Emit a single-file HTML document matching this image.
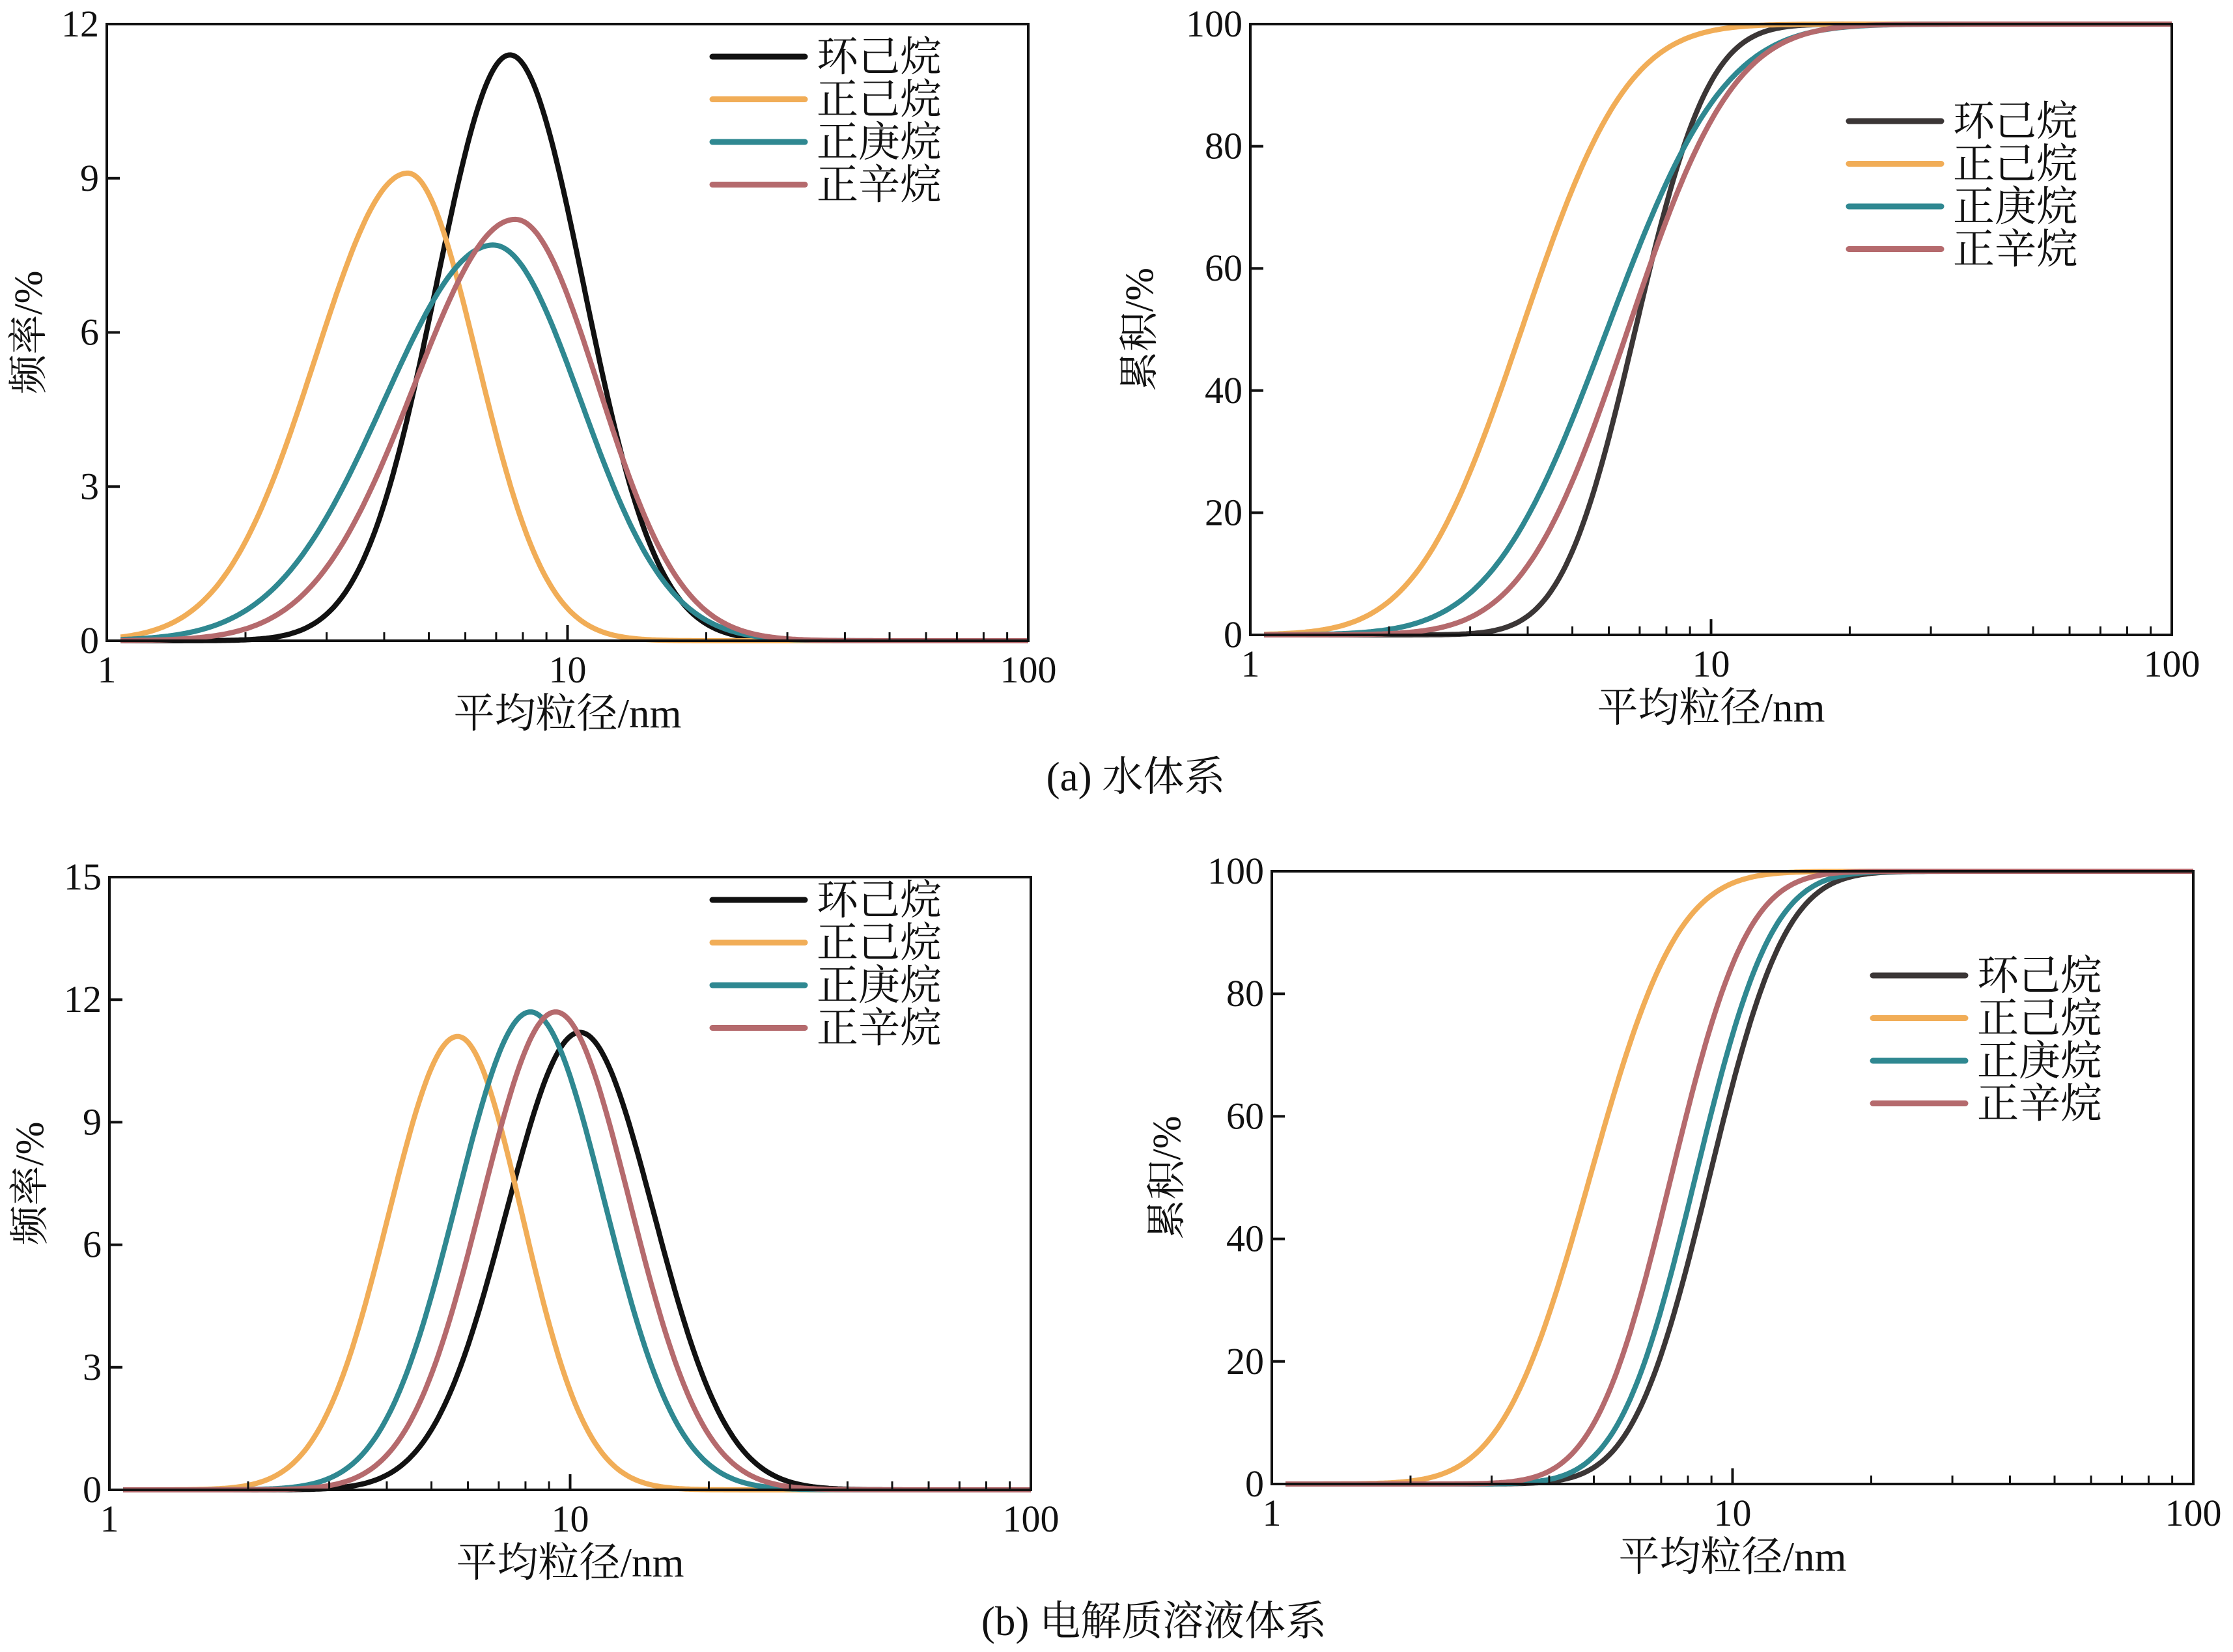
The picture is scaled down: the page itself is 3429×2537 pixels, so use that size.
<!DOCTYPE html>
<html><head><meta charset="utf-8">
<style>
html,body{margin:0;padding:0;background:#fff;}
svg{display:block;}
text{font-family:"Liberation Serif","Noto Serif CJK SC","Noto Sans CJK SC",serif;fill:#111;}
</style></head>
<body>
<svg id="fig" width="3429" height="2537" viewBox="0 0 3429 2537" xmlns="http://www.w3.org/2000/svg"></svg>
<script>
// ---- data ----
const seriesNames = ["环己烷","正己烷","正庚烷","正辛烷"];
// frequency panel (a): peak size (nm), peak value (%), left/right spread (log10 units)
const aFreqPeakSize = [7.5, 4.5, 6.9, 7.7];
const aFreqPeakValue = [11.4, 9.1, 7.7, 8.2];
const aFreqSpreadL = [0.16, 0.2, 0.237, 0.219];
const aFreqSpreadR = [0.16, 0.15, 0.19, 0.18];
// frequency panel (b)
const bFreqPeakSize = [10.5, 5.7, 8.2, 9.3];
const bFreqPeakValue = [11.2, 11.1, 11.7, 11.7];
const bFreqSpreadL = [0.16, 0.15, 0.16, 0.16];
const bFreqSpreadR = [0.16, 0.14, 0.16, 0.16];
// cumulative panels: median size (nm) and spread (log10 units)
const aCumMedian = [6.85, 3.88, 5.95, 6.6];
const aCumSpread = [0.125, 0.18, 0.2, 0.18];
const bCumMedian = [8.9, 4.9, 8.3, 7.35];
const bCumSpread = [0.13, 0.15, 0.13, 0.13];
const freqTicksA = [0,3,6,9,12];
const freqTicksB = [0,3,6,9,12,15];
const cumTicks = [0,20,40,60,80,100];
const xTicks = [1,10,100];

const colorsFreq = ["#111111","#f1ad57","#2f8891","#b56a6d"];
const colorsCum = ["#3b3636","#f1ad57","#2f8891","#b56a6d"];
const NS = "http://www.w3.org/2000/svg";
const svg = document.getElementById("fig");

function mk(tag, attrs, parent){
  const e=document.createElementNS(NS,tag);
  for(const k in attrs) e.setAttribute(k,attrs[k]);
  (parent||svg).appendChild(e); return e;
}
function erf(x){const s=x<0?-1:1;x=Math.abs(x);const t=1/(1+0.3275911*x);
  const y=1-(((((1.061405429*t-1.453152027)*t)+1.421413741)*t-0.284496736)*t+0.254829592)*t*Math.exp(-x*x);return s*y;}

function panel(cfg){
  const g=mk("g",{});
  
  
  const {x0,x1,y0,y1,ymax}=cfg;
  const X=v=>x0+(Math.log10(v))/2*(x1-x0);
  const Y=v=>y1-(v/ymax)*(y1-y0);
  for(let i=0;i<4;i++){
    let d="";
    for(let k=0;k<=400;k++){
      const u=0.03+k*(1.97/400);
      let val;
      if(cfg.type==="freq"){
        const mu=Math.log10(cfg.ps[i]);
        const s=u<mu?cfg.sl[i]:cfg.sr[i];
        val=cfg.pv[i]*Math.exp(-(u-mu)*(u-mu)/(2*s*s));
      } else {
        const mu=Math.log10(cfg.med[i]);
        val=50*(1+erf((u-mu)/(cfg.sp[i]*Math.SQRT2)));
      }
      const px=X(Math.pow(10,u)), py=Y(val);
      d+=(k?"L":"M")+px.toFixed(1)+","+py.toFixed(1);
    }
    const p=mk("path",{d:d,fill:"none",stroke:cfg.colors[i],"stroke-width":8,"stroke-linejoin":"round"},g);
    
    
  }
  const fr=mk("rect",{x:x0,y:y0,width:x1-x0,height:y1-y0,fill:"none",stroke:"#111","stroke-width":4},g);
  
  
  cfg.yt.forEach(v=>{
    mk("line",{x1:x0,x2:x0+20,y1:Y(v),y2:Y(v),stroke:"#111","stroke-width":4},g);
    const t=mk("text",{x:x0-12,y:Y(v)+19,"text-anchor":"end","font-size":58},g);
    t.textContent=v;
    
    
  });
  xTicks.forEach(v=>{
    mk("line",{x1:X(v),x2:X(v),y1:y1,y2:y1-24,stroke:"#111","stroke-width":4},g);
    const t=mk("text",{x:X(v),y:y1+64,"text-anchor":"middle","font-size":58},g);
    t.textContent=v;
    
    
  });
  [1,10].forEach(b=>{for(let m=2;m<=9;m++){
    mk("line",{x1:X(b*m),x2:X(b*m),y1:y1,y2:y1-13,stroke:"#111","stroke-width":3},g);}});
  const xt=mk("text",{x:(x0+x1)/2,y:y1+133,"text-anchor":"middle","font-size":63},g);
  xt.textContent="平均粒径/nm";
  
  
  const yt=mk("text",{x:0,y:0,"text-anchor":"middle","font-size":61,transform:`translate(${cfg.ytx},${(y0+y1)/2}) rotate(-90)`},g);
  yt.textContent=cfg.ytitle;
  
  
  for(let i=0;i<4;i++){
    const ly=cfg.ly+i*65.5;
    const ln=mk("line",{x1:cfg.lx,x2:cfg.lx+142,y1:ly,y2:ly,stroke:cfg.colors[i],"stroke-width":9,"stroke-linecap":"round"},g);
    
    
    const t=mk("text",{x:cfg.lx+160,y:ly+22,"font-size":64},g);
    t.textContent=seriesNames[i];
    
    
  }
}

panel({name:"panel-a-frequency",type:"freq",x0:164,x1:1579,y0:37,y1:984,ymax:12,yt:freqTicksA,
  ps:aFreqPeakSize,pv:aFreqPeakValue,sl:aFreqSpreadL,sr:aFreqSpreadR,colors:colorsFreq,ytitle:"频率/%",ytx:64,lx:1094,ly:87});
panel({name:"panel-a-cumulative",type:"cum",x0:1920,x1:3335,y0:37,y1:975,ymax:100,yt:cumTicks,
  med:aCumMedian,sp:aCumSpread,colors:colorsCum,ytitle:"累积/%",ytx:1770,lx:2839,ly:186});
panel({name:"panel-b-frequency",type:"freq",x0:168,x1:1583,y0:1347,y1:2288,ymax:15,yt:freqTicksB,
  ps:bFreqPeakSize,pv:bFreqPeakValue,sl:bFreqSpreadL,sr:bFreqSpreadR,colors:colorsFreq,ytitle:"频率/%",ytx:66,lx:1094,ly:1382});
panel({name:"panel-b-cumulative",type:"cum",x0:1953,x1:3368,y0:1338,y1:2279,ymax:100,yt:cumTicks,
  med:bCumMedian,sp:bCumSpread,colors:colorsCum,ytitle:"累积/%",ytx:1812,lx:2876,ly:1498});

const ca=mk("text",{x:1744,y:1214,"text-anchor":"middle","font-size":63});
ca.textContent="(a) 水体系";


const cb=mk("text",{x:1772,y:2511,"text-anchor":"middle","font-size":63});
cb.textContent="(b) 电解质溶液体系";


</script>
</body></html>
